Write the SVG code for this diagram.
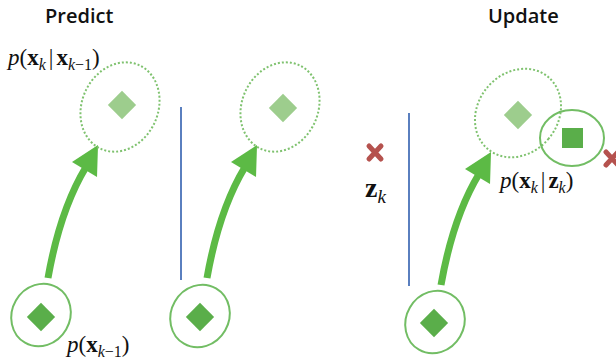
<svg xmlns="http://www.w3.org/2000/svg" width="616" height="359" viewBox="0 0 616 359">
<style>
.title{font-family:"Open Sans","Liberation Sans",sans-serif;font-weight:600;font-size:20px;fill:#111}
.math{font-family:"Liberation Serif","DejaVu Serif",serif;font-size:23px;fill:#111}
.it{font-style:italic}
.bf{font-weight:bold}
.sub{font-size:16px;font-style:italic}
.ell{fill:none;stroke:#72bd64;stroke-width:2}
.dot{fill:none;stroke:#7fc26f;stroke-width:2;stroke-dasharray:2 2}
.dk{fill:#5aae4a}
.lt{fill:#9dcd8d}
.vline{stroke:#5a7fbf;stroke-width:2}
.shaft{fill:none;stroke:#5cba45;stroke-width:7}
.head{fill:#5cba45}
.xm{stroke:#b5524e;stroke-width:5;stroke-linecap:round}
</style>
<defs>
<g id="arrowShape">
<path class="shaft" d="M48,278 Q60,210 86,167"/>
<polygon class="head" points="98,145 72,162 97,177"/>
</g>
</defs>
<text class="title" x="45" y="23">Predict</text>
<text class="title" x="488" y="23">Update</text>
<g id="connectors">
<use href="#arrowShape"/>
<use href="#arrowShape" transform="translate(159,0)"/>
<use href="#arrowShape" transform="translate(393,7)"/>
</g>
<g id="lines">
<line class="vline" x1="181" y1="107" x2="181" y2="280"/>
<line class="vline" x1="409" y1="113" x2="409" y2="286"/>
</g>
<g id="node-p1-prior">
<ellipse class="ell" cx="41" cy="315" rx="29" ry="32" transform="rotate(30 41 315)"/>
<rect class="dk" x="31" y="307" width="20" height="20" transform="rotate(45 41 317)"/>
</g>
<g id="node-p1-pred">
<ellipse class="dot" cx="120" cy="107" rx="38" ry="46" transform="rotate(25 120 107)"/>
<rect class="lt" x="112" y="95" width="20" height="20" transform="rotate(45 122 105)"/>
</g>
<g id="node-p2-prior">
<ellipse class="ell" cx="200" cy="316" rx="29" ry="32" transform="rotate(30 200 316)"/>
<rect class="dk" x="190" y="307" width="20" height="20" transform="rotate(45 200 317)"/>
</g>
<g id="node-p2-pred">
<ellipse class="dot" cx="280" cy="107" rx="38" ry="46" transform="rotate(25 280 107)"/>
<rect class="lt" x="273" y="98" width="20" height="20" transform="rotate(45 283 108)"/>
</g>
<g id="node-p3-prior">
<ellipse class="ell" cx="435" cy="322" rx="29" ry="32" transform="rotate(30 435 322)"/>
<rect class="dk" x="424" y="313" width="20" height="20" transform="rotate(45 434 323)"/>
</g>
<g id="node-p3-pred">
<ellipse class="dot" cx="518" cy="113" rx="40" ry="47" transform="rotate(40 518 113)"/>
<rect class="lt" x="508" y="105" width="20" height="20" transform="rotate(45 518 115)"/>
</g>
<g id="node-p3-meas">
<ellipse class="ell" cx="572" cy="138" rx="32" ry="28"/>
<rect class="dk" x="562" y="128" width="21" height="20"/>
</g>
<g id="marks">
<path class="xm" d="M369,146 L381,159 M381,146 L369,159"/>
<path class="xm" d="M606,152 L618,165 M618,152 L606,165"/>
</g>
<text class="math" x="8" y="65"><tspan class="it">p</tspan>(<tspan class="bf">x</tspan><tspan class="sub" dy="5">k</tspan><tspan dy="-5" dx="3">|</tspan><tspan class="bf" dx="3">x</tspan><tspan class="sub" dy="5">k</tspan><tspan style="font-style:normal;font-size:16px">−1</tspan><tspan dy="-5">)</tspan></text>
<text class="math" x="67" y="352"><tspan class="it">p</tspan>(<tspan class="bf">x</tspan><tspan class="sub" dy="5">k</tspan><tspan style="font-style:normal;font-size:16px">−1</tspan><tspan dy="-5">)</tspan></text>
<text class="math" x="500" y="188"><tspan class="it">p</tspan>(<tspan class="bf">x</tspan><tspan class="sub" dy="5">k</tspan><tspan dy="-5" dx="3">|</tspan><tspan class="bf" dx="3">z</tspan><tspan class="sub" dy="5">k</tspan><tspan dy="-5">)</tspan></text>
<text class="math" x="365" y="197" style="font-size:28px"><tspan class="bf">z</tspan><tspan dy="6" style="font-style:italic;font-size:19px">k</tspan></text>
</svg>
